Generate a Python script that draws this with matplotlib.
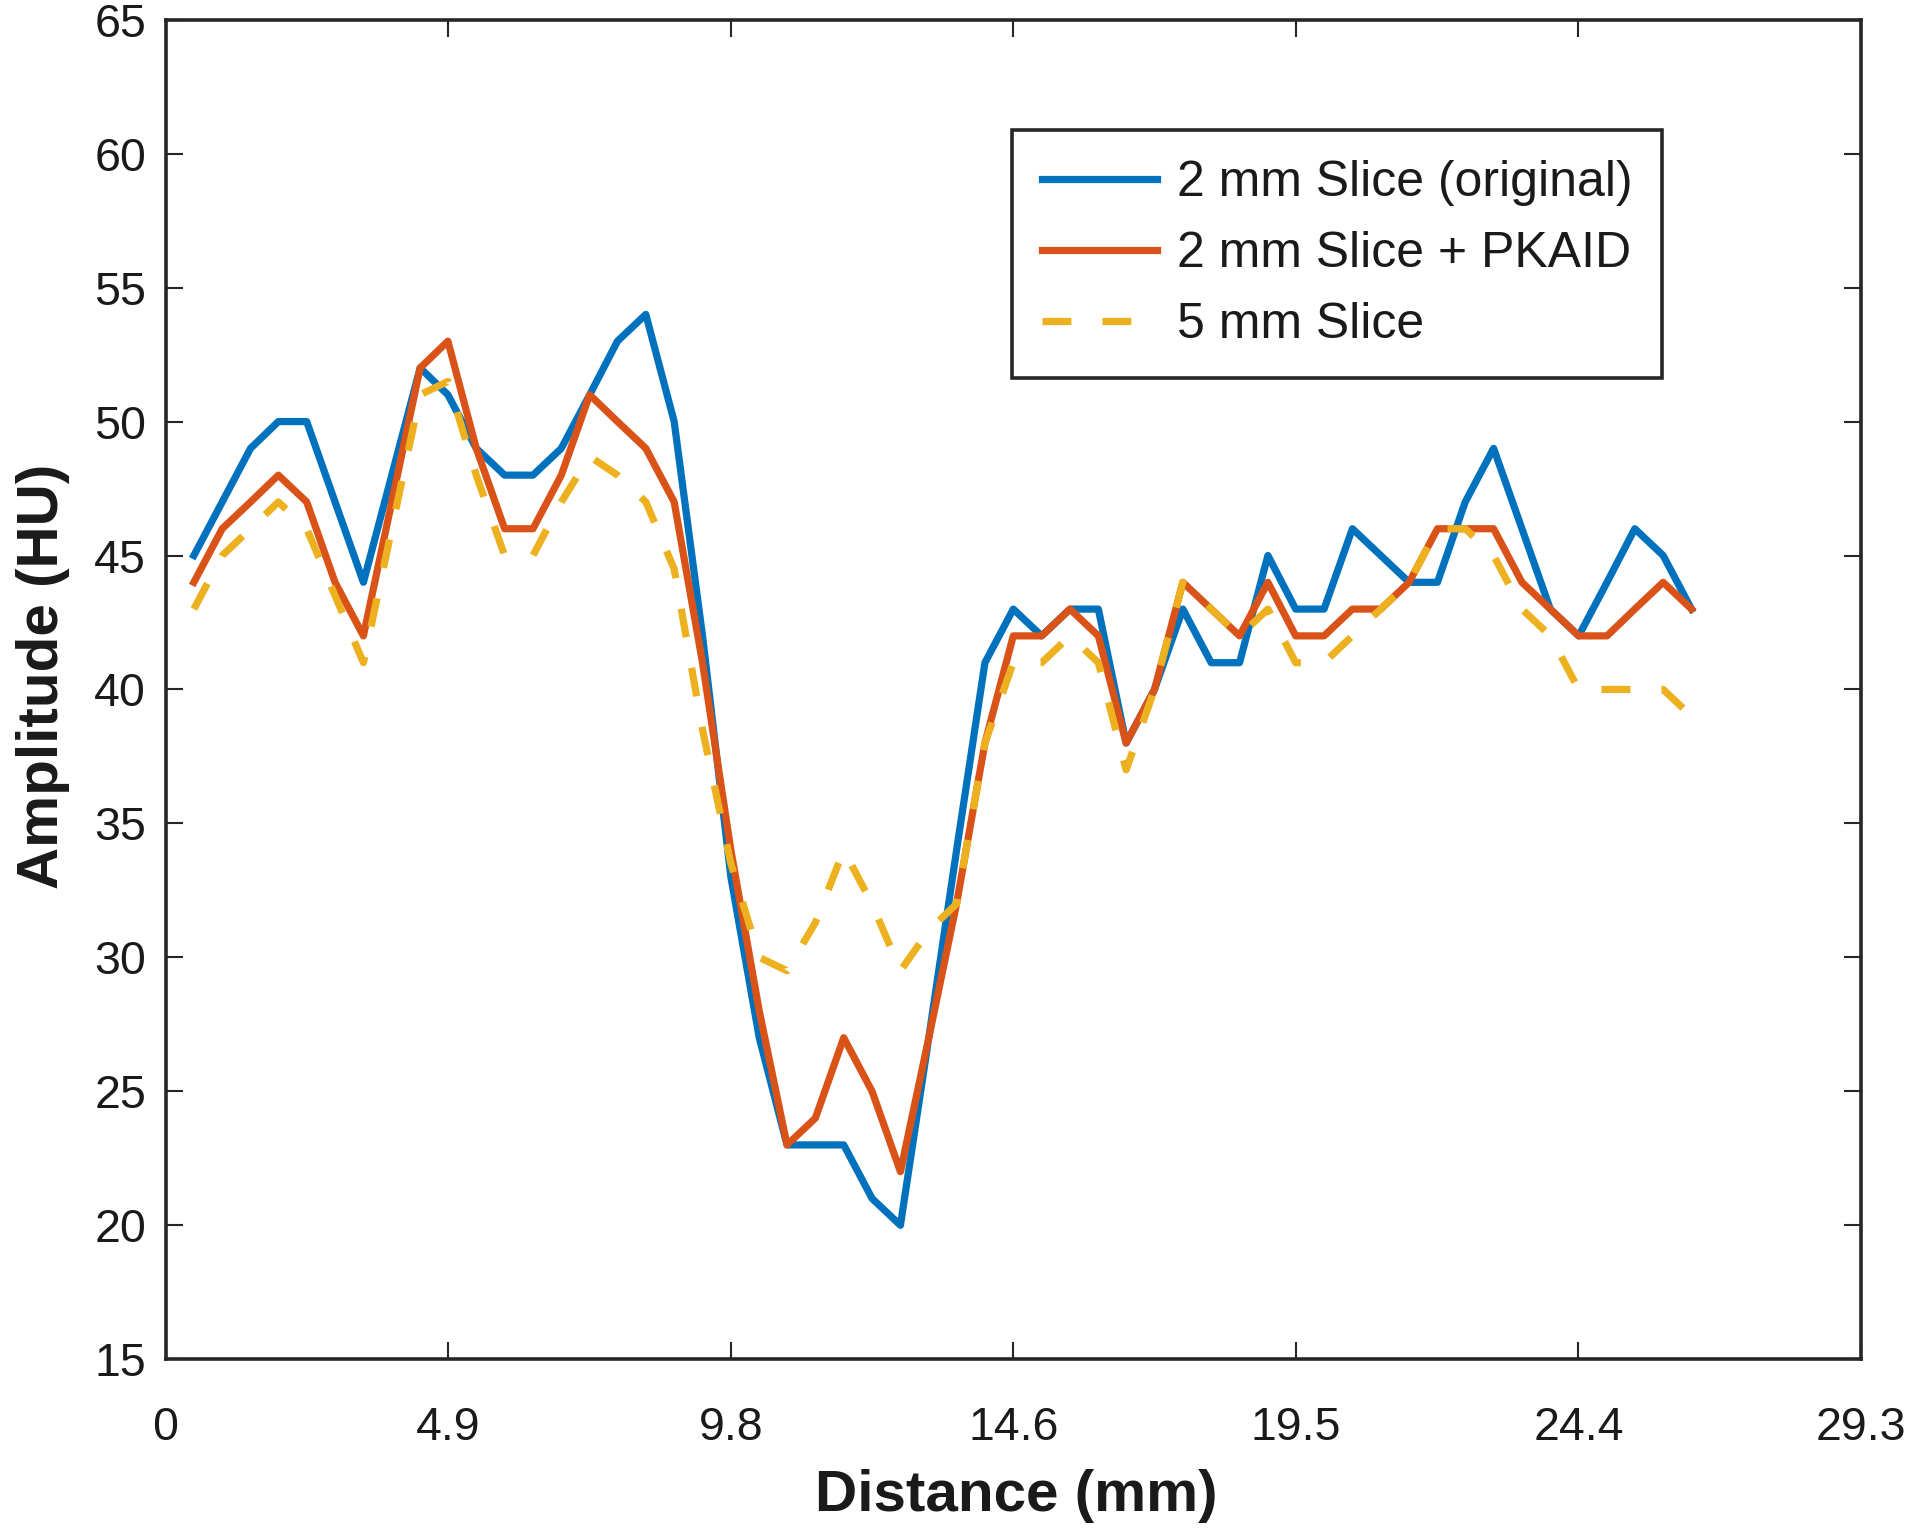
import matplotlib
matplotlib.use('Agg')
import matplotlib.pyplot as plt

# distance along the profile (mm), pixel spacing 29.3/60
distance = [0.49, 0.98, 1.47, 1.95, 2.44, 2.93, 3.42, 3.91, 4.40, 4.88,
            5.37, 5.86, 6.35, 6.84, 7.33, 7.81, 8.30, 8.79, 9.28, 9.77,
            10.26, 10.74, 11.23, 11.72, 12.21, 12.70, 13.19, 13.67, 14.16, 14.65,
            15.14, 15.63, 16.12, 16.60, 17.09, 17.58, 18.07, 18.56, 19.05, 19.53,
            20.02, 20.51, 21.00, 21.49, 21.98, 22.46, 22.95, 23.44, 23.93, 24.42,
            24.91, 25.39, 25.88, 26.37]

slice_2mm = [45, 47, 49, 50, 50, 47, 44, 48, 52, 51,
             49, 48, 48, 49, 51, 53, 54, 50, 42, 33,
             27, 23, 23, 23, 21, 20, 27, 34, 41, 43,
             42, 43, 43, 38, 40, 43, 41, 41, 45, 43,
             43, 46, 45, 44, 44, 47, 49, 46, 43, 42,
             44, 46, 45, 43]

slice_2mm_pkaid = [44, 46, 47, 48, 47, 44, 42, 47, 52, 53,
                   49, 46, 46, 48, 51, 50, 49, 47, 41, 34,
                   28, 23, 24, 27, 25, 22, 27, 32, 38, 42,
                   42, 43, 42, 38, 40, 44, 43, 42, 44, 42,
                   42, 43, 43, 44, 46, 46, 46, 44, 43, 42,
                   42, 43, 44, 43]

slice_5mm = [43, 45, 46, 47, 46, 43.5, 41, 46, 51, 51.5,
             48, 45, 45, 47, 48.7, 48, 47, 44.5, 38.5, 33.5,
             30, 29.5, 31.3, 34, 32, 29.5, 31, 32, 38, 41,
             41, 42, 41, 37, 40, 44, 43, 42, 43, 41,
             41, 42, 43, 44, 46, 46, 45, 43, 42, 40,
             40, 40, 40, 39]

labels = ['2 mm Slice (original)', '2 mm Slice + PKAID', '5 mm Slice']
tick_pos = [0, 4.883, 9.767, 14.65, 19.533, 24.417, 29.3]
tick_lab = ['0', '4.9', '9.8', '14.6', '19.5', '24.4', '29.3']

plt.rcParams['font.family'] = ['Liberation Sans', 'DejaVu Sans']

fig = plt.figure(figsize=(19.2, 15.39), dpi=100)
ax = fig.add_axes([0.0862, 0.1168, 0.8831, 0.8704])

ax.plot(distance, slice_2mm, color='#0072BD', lw=5.2, label=labels[0])
ax.plot(distance, slice_2mm_pkaid, color='#D95319', lw=5.2, label=labels[1])
ax.plot(distance, slice_5mm, color='#EDB120', lw=5.2, dashes=(4, 4.3), label=labels[2])

ax.set_xlim(0, 29.3)
ax.set_ylim(15, 65)
ax.set_xticks(tick_pos)
ax.set_xticklabels(tick_lab)
ax.set_yticks(range(15, 66, 5))

ax.tick_params(direction='in', length=12, width=1.5, top=True, right=True,
               labelsize=33.5, colors='#262626', labelcolor='#1a1a1a')
ax.tick_params(axis='x', pad=34)
ax.tick_params(axis='y', pad=14)
for sp in ax.spines.values():
    sp.set_linewidth(2.6)
    sp.set_color('#262626')

ax.set_xlabel('Distance (mm)', fontsize=42, fontweight='bold', color='#1a1a1a')
ax.set_ylabel('Amplitude (HU)', fontsize=42, fontweight='bold', color='#1a1a1a')
ax.xaxis.set_label_coords(0.502, -0.102)
ax.xaxis.label.set_va('center')
ax.yaxis.set_label_coords(-0.072, 0.51)
ax.yaxis.label.set_va('center')

leg = ax.legend(loc='upper left', bbox_to_anchor=(0.499, 0.9176), fontsize=36,
                handlelength=2.3, handletextpad=0.4, labelspacing=0.5,
                borderpad=0.6, borderaxespad=0, fancybox=False, framealpha=1,
                edgecolor='#262626')
leg.get_frame().set_linewidth(2.6)
for t in leg.get_texts():
    t.set_color('#1a1a1a')

fig.savefig('out.png', dpi=100)
